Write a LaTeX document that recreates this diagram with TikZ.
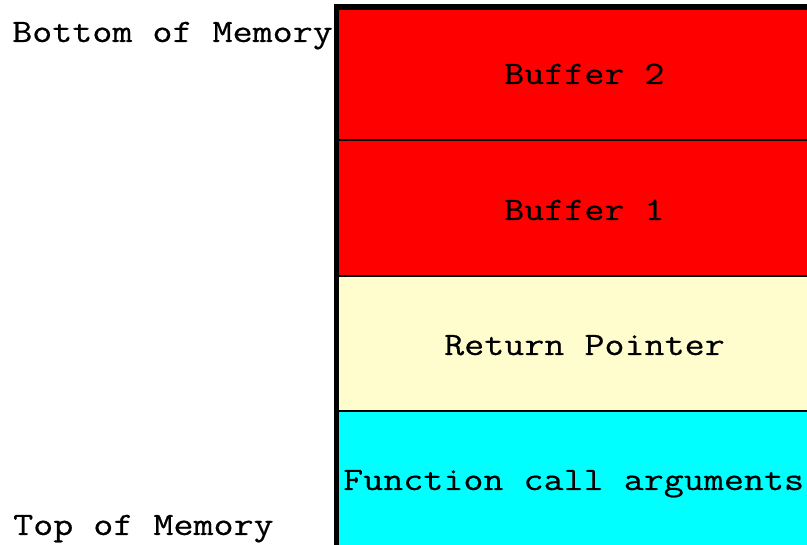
\documentclass[tikz,border=0pt]{standalone}
\usepackage{fontspec}
\newfontfamily\stackfont[FakeStretch=1.19,FakeBold=0.5]{Latin Modern Mono}
\definecolor{bufred}{RGB}{255,0,0}
\definecolor{retcream}{RGB}{255,252,206}
\definecolor{argcyan}{RGB}{0,255,255}
\begin{document}
\begin{tikzpicture}[x=1pt,y=-1pt,
  frame/.style={draw=black,line width=2pt},
  slot/.style={frame,rectangle,anchor=north west,minimum width=500pt,inner sep=0pt,outer sep=0pt},
  txt/.style={anchor=base west,inner sep=0pt,font=\stackfont\fontsize{32.7}{34}\selectfont}]
  \useasboundingbox (0,0) rectangle (807,545);
  \fill[white] (0,0) rectangle (807,545);
  \clip (0,0) rectangle (807,545);
  % stack slots
  \node[slot,fill=bufred,minimum height=132pt] (buf2) at (336,8) {};
  \node[slot,fill=bufred,minimum height=136pt] (buf1) at (336,140) {};
  \node[slot,fill=retcream,minimum height=135pt] (ret) at (336,276) {};
  \node[slot,fill=argcyan,minimum height=150pt] (args) at (336,411) {};
  % heavy left and top edges of the stack
  \coordinate (lt) at (336,4);
  \coordinate (lb) at (336,560);
  \coordinate (tr) at (820,7);
  \draw[line width=5pt] (lt) -- (lb);
  \draw[line width=6pt] (lt |- tr) -- (tr);
  % labels
  \node[txt] (lbot) at (12,42) {Bottom of Memory};
  \node[txt] (ltop) at (13,535) {Top of Memory};
  \node[txt] (t2) at (504,84) {Buffer 2};
  \node[txt] (t1) at (504,220) {Buffer 1};
  \node[txt] (tr1) at (444,355) {Return Pointer};
  \node[txt] (ta) at (343,490) {Function call arguments};
\end{tikzpicture}
\end{document}
